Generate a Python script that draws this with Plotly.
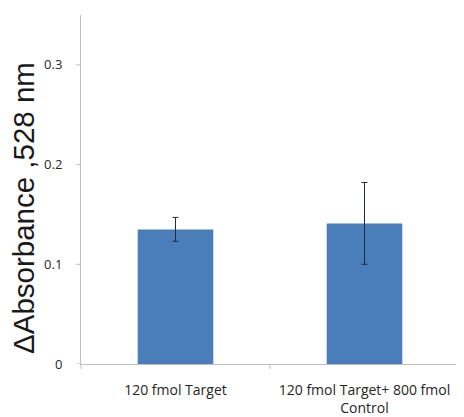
import plotly.graph_objects as go

categories = ["120 fmol Target", "120 fmol Target+ 800 fmol<br>Control"]
values = [0.135, 0.141]
errors = [0.012, 0.041]
y_ticks = [0, 0.1, 0.2, 0.3]
y_tick_labels = ["0", "0.1", "0.2", "0.3"]

fig = go.Figure(go.Bar(
    x=categories, y=values,
    marker=dict(color="#4a7ebb", line=dict(width=0)),
    error_y=dict(type="data", array=errors, color="#1f2a3a", thickness=1, width=3),
))

# page body has an 8px margin, so the figure is offset by 8px
W, H = 456, 409
L, R, T, B = 73, 5, 7, 53
pw = W - L - R
ph = H - T - B
AXIS = "#bfbfbf"

# visible short tick marks (labels are pushed out with invisible long ticks)
shapes = []
for v in y_ticks:
    shapes.append(dict(type="line", xref="paper", yref="y",
                       x0=-5 / pw, x1=0, y0=v, y1=v,
                       line=dict(color=AXIS, width=1)))
n = len(categories)
for i in range(n + 1):
    shapes.append(dict(type="line", xref="paper", yref="paper",
                       x0=i / n, x1=i / n, y0=-5 / ph, y1=0,
                       line=dict(color=AXIS, width=1)))

fig.update_layout(
    width=W, height=H,
    margin=dict(l=L, r=R, t=T, b=B, autoexpand=False),
    paper_bgcolor="white", plot_bgcolor="white",
    bargap=0.6,
    showlegend=False,
    font=dict(family="Liberation Sans, Arial", color="#333333"),
    xaxis=dict(
        showline=True, linecolor=AXIS, linewidth=1,
        ticks="outside", ticklen=13, tickcolor="rgba(0,0,0,0)",
        tickfont=dict(size=14, family="Open Sans, Liberation Sans", color="#262626"),
        showgrid=False, automargin=False,
    ),
    yaxis=dict(
        range=[0, 0.35],
        tickvals=y_ticks, ticktext=y_tick_labels,
        showline=True, linecolor=AXIS, linewidth=1,
        ticks="outside", ticklen=15, tickcolor="rgba(0,0,0,0)",
        tickfont=dict(size=13, family="Open Sans, Liberation Sans", color="#262626"),
        showgrid=False, zeroline=False, automargin=False,
    ),
    shapes=shapes,
    annotations=[dict(
        text="ΔAbsorbance ,528 nm",
        textangle=-90,
        xref="paper", yref="paper",
        x=(23 - 8 - L) / pw, y=(364 - 208) / ph,
        xanchor="center", yanchor="middle",
        showarrow=False,
        font=dict(size=29.5, family="Liberation Sans, Arial", color="#1a1a1a"),
    )],
)

fig.write_html("out.html")
